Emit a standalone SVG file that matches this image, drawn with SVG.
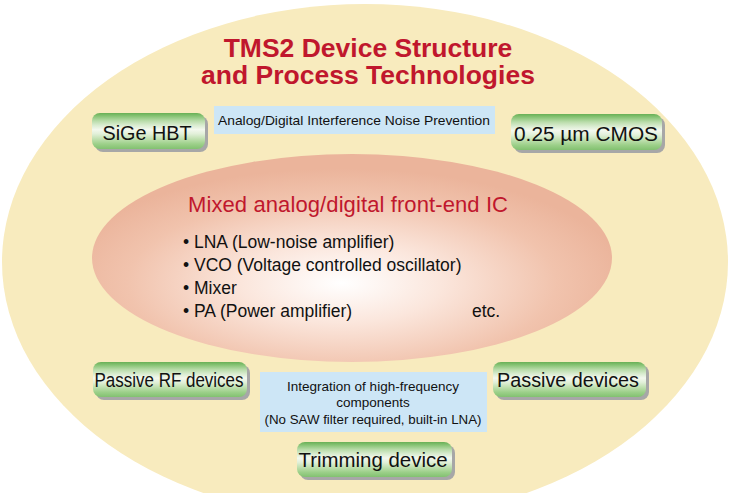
<svg xmlns="http://www.w3.org/2000/svg" width="729" height="493" viewBox="0 0 729 493">
  <defs>
    <radialGradient id="coreFill" cx="0.48" cy="0.62" r="0.55">
      <stop offset="0" stop-color="#ffffff"/>
      <stop offset="0.35" stop-color="#fbe6dc"/>
      <stop offset="0.75" stop-color="#f1c3ad"/>
      <stop offset="1" stop-color="#ebb49b"/>
    </radialGradient>
    <linearGradient id="pillFill" x1="0" y1="0" x2="0" y2="1">
      <stop offset="0" stop-color="#68b055"/>
      <stop offset="0.1" stop-color="#8cc67a"/>
      <stop offset="0.22" stop-color="#b9dcaa"/>
      <stop offset="0.34" stop-color="#d9ecd0"/>
      <stop offset="0.46" stop-color="#f3f8ee"/>
      <stop offset="0.58" stop-color="#e2f0d9"/>
      <stop offset="0.72" stop-color="#c0e0b0"/>
      <stop offset="0.86" stop-color="#9dd08a"/>
      <stop offset="1" stop-color="#82c170"/>
    </linearGradient>
  </defs>
  <style>
    .shadow { fill: #a7a7a7; }
    .pill { fill: url(#pillFill); }
    .pill-text { font-family: "Liberation Sans", Arial, sans-serif; font-size: 20.5px; fill: #111; text-anchor: middle; }
    .note { fill: #cde6f6; }
    .note-text { font-family: "Liberation Sans", Arial, sans-serif; font-size: 13.5px; fill: #111; text-anchor: middle; }
    .title { font-family: "Liberation Sans", Arial, sans-serif; font-size: 26.5px; font-weight: bold; fill: #c0172d; text-anchor: middle; }
    .core-title { font-family: "Liberation Sans", Arial, sans-serif; font-size: 22px; fill: #c0172d; }
    .core-item { font-family: "Liberation Sans", Arial, sans-serif; font-size: 17.5px; fill: #111; }
  </style>

  <!-- outer field -->
  <ellipse cx="365" cy="262" rx="363" ry="258" fill="#f8ebbe"/>

  <g id="title">
    <text class="title" x="368" y="57">TMS2 Device Structure</text>
    <text class="title" x="368" y="84">and Process Technologies</text>
  </g>

  <!-- central IC ellipse -->
  <g id="front-end-ic">
    <ellipse cx="352" cy="258" rx="260" ry="104" fill="url(#coreFill)"/>
    <text class="core-title" x="188" y="212" textLength="320">Mixed analog/digital front-end IC</text>
    <text class="core-item" x="183" y="248">• LNA (Low-noise amplifier)</text>
    <text class="core-item" x="183" y="271">• VCO (Voltage controlled oscillator)</text>
    <text class="core-item" x="183" y="294">• Mixer</text>
    <text class="core-item" x="183" y="317">• PA (Power amplifier)</text>
    <text class="core-item" x="472" y="317">etc.</text>
  </g>

  <g id="noise-note">
    <rect class="note" x="214" y="106" width="281" height="28"/>
    <text class="note-text" x="354" y="125" textLength="272" lengthAdjust="spacingAndGlyphs">Analog/Digital Interference Noise Prevention</text>
  </g>

  <g id="integration-note">
    <rect class="note" x="260" y="372" width="227" height="60"/>
    <text class="note-text" x="373" y="391">Integration of high-frequency</text>
    <text class="note-text" x="373" y="407">components</text>
    <text class="note-text" x="373" y="424" textLength="217" lengthAdjust="spacingAndGlyphs">(No SAW filter required, built-in LNA)</text>
  </g>

  <g id="sige-hbt">
    <rect class="shadow" x="95" y="116" width="113" height="36" rx="8"/>
    <rect class="pill" x="92" y="113" width="113" height="36" rx="8"/>
    <text class="pill-text" x="147" y="140" textLength="89" lengthAdjust="spacingAndGlyphs">SiGe HBT</text>
  </g>

  <g id="cmos">
    <rect class="shadow" x="514" y="117" width="151" height="36" rx="8"/>
    <rect class="pill" x="511" y="114" width="151" height="36" rx="8"/>
    <text class="pill-text" x="586" y="141" textLength="144" lengthAdjust="spacingAndGlyphs">0.25 µm CMOS</text>
  </g>

  <g id="passive-rf">
    <rect class="shadow" x="96" y="365" width="154" height="35" rx="8"/>
    <rect class="pill" x="93" y="362" width="154" height="35" rx="8"/>
    <text class="pill-text" x="169" y="387" textLength="149" lengthAdjust="spacingAndGlyphs">Passive RF devices</text>
  </g>

  <g id="passive">
    <rect class="shadow" x="496" y="365" width="153" height="35" rx="8"/>
    <rect class="pill" x="493" y="362" width="153" height="35" rx="8"/>
    <text class="pill-text" x="568" y="387" textLength="142" lengthAdjust="spacingAndGlyphs">Passive devices</text>
  </g>

  <g id="trimming">
    <rect class="shadow" x="300" y="445" width="155" height="35" rx="8"/>
    <rect class="pill" x="297" y="442" width="155" height="35" rx="8"/>
    <text class="pill-text" x="373" y="467" textLength="149" lengthAdjust="spacingAndGlyphs">Trimming device</text>
  </g>
</svg>
